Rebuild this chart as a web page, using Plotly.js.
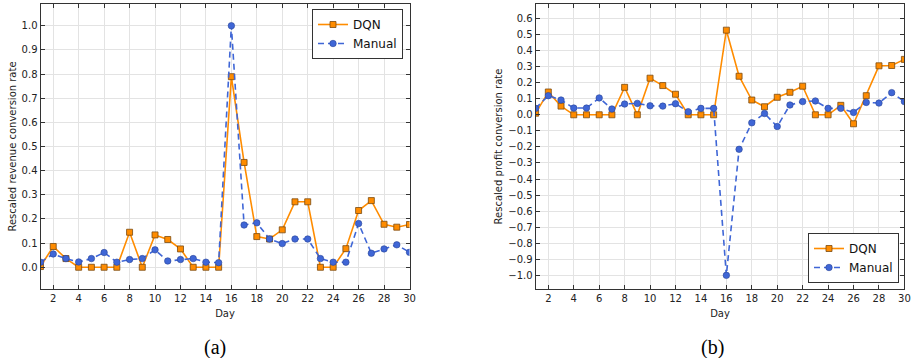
<!DOCTYPE html>
<html><head><meta charset="utf-8">
<script src="https://cdn.plot.ly/plotly-3.0.1.min.js"></script>
<style>html,body{margin:0;padding:0;background:#fff}#plot{width:911px;height:358px}</style>
</head><body><div id="plot"></div>
<script>
const days = Array.from({length:30},(_,i)=>i+1);
const revenueDQN = [0.003,0.086,0.036,0,0,0,0,0.145,0,0.134,0.115,0.076,0,0,0,0.789,0.434,0.127,0.117,0.155,0.271,0.271,0,0,0.077,0.235,0.276,0.178,0.166,0.177];
const revenueManual = [0.021,0.055,0.036,0.022,0.036,0.061,0.021,0.032,0.036,0.072,0.026,0.032,0.036,0.021,0.019,1.0,0.175,0.184,0.117,0.098,0.117,0.117,0.036,0.021,0.021,0.181,0.058,0.076,0.093,0.062];
const profitDQN = [0.01,0.142,0.054,0,0,0,0,0.171,0,0.228,0.182,0.128,0,0,0,0.527,0.240,0.092,0.050,0.109,0.140,0.178,0,0,0.059,-0.056,0.119,0.305,0.307,0.345];
const profitManual = [0.040,0.119,0.092,0.042,0.042,0.105,0.036,0.067,0.071,0.056,0.054,0.069,0.019,0.040,0.040,-1.0,-0.215,-0.050,0.008,-0.073,0.061,0.082,0.086,0.040,0.040,0.015,0.077,0.073,0.138,0.082];
const xTicks = [2,4,6,8,10,12,14,16,18,20,22,24,26,28,30];
const revTicks = [0,0.1,0.2,0.3,0.4,0.5,0.6,0.7,0.8,0.9,1.0];
const profTicks = [-1.0,-0.9,-0.8,-0.7,-0.6,-0.5,-0.4,-0.3,-0.2,-0.1,0,0.1,0.2,0.3,0.4,0.5,0.6];

const ORANGE = '#ff8c00', BLUE = '#3f66d6';
function dqn(y, xa, ya, lg, show){
  return {x:days, y:y, xaxis:xa, yaxis:ya, name:'DQN', legend:lg, showlegend:show, mode:'lines+markers',
    line:{color:ORANGE, width:1.6}, marker:{symbol:'square', size:6, color:ORANGE, line:{color:'#7a4a10', width:0.8}}};
}
function man(y, xa, ya, lg, show){
  return {x:days, y:y, xaxis:xa, yaxis:ya, name:'Manual', legend:lg, showlegend:show, mode:'lines+markers',
    line:{color:BLUE, width:1.6, dash:'6px,4px'}, marker:{symbol:'circle', size:6.5, color:BLUE, line:{color:'#2a4597', width:0.6}}};
}
const data = [
  dqn(revenueDQN,'x','y','legend',true),
  man(revenueManual,'x','y','legend',true),
  dqn(profitDQN,'x2','y2','legend2',true),
  man(profitManual,'x2','y2','legend2',true)
];
const W=911,H=358;
const font = {family:'DejaVu Sans, sans-serif', size:10, color:'#222'};
function xax(dom, anchor){
  return {domain:dom, anchor:anchor, range:[1,30], tickvals:xTicks, ticks:'inside', ticklen:4, tickcolor:'#333',
    showline:true, linecolor:'#333', linewidth:1, mirror:'ticks', showgrid:true, gridcolor:'#e3e3e3', gridwidth:1,
    zeroline:false, tickfont:font, title:{text:'Day', font:{family:'DejaVu Sans, sans-serif', size:10, color:'#222'}, standoff:6}};
}
function yax(dom, anchor, range, ticks, title){
  return {domain:dom, anchor:anchor, range:range, tickvals:ticks, tickformat:'.1f', ticks:'inside', ticklen:4, tickcolor:'#333',
    showline:true, linecolor:'#333', linewidth:1, mirror:'ticks', showgrid:true, gridcolor:'#e3e3e3', gridwidth:1,
    zeroline:false, tickfont:font, title:{text:title, font:{family:'DejaVu Sans, sans-serif', size:10, color:'#222'}, standoff:3}};
}
const yd = [(H-289)/H, (H-4)/H];
const legFont = {family:'DejaVu Sans, sans-serif', size:12, color:'#111'};
const layout = {
  width:W, height:H, margin:{l:0,r:0,t:0,b:0}, paper_bgcolor:'#fff', plot_bgcolor:'#fff',
  xaxis: xax([40.5/W, 409.5/W],'y'),
  yaxis: yax(yd,'x',[-0.09,1.09],revTicks,'Rescaled revenue conversion rate'),
  xaxis2: xax([535.6/W, 904.4/W],'y2'),
  yaxis2: yax(yd,'x2',[-1.085,0.69],profTicks,'Rescaled profit conversion rate'),
  legend:{x:403/W, y:(H-9)/H, xanchor:'right', yanchor:'top', bgcolor:'#fff', bordercolor:'#333', borderwidth:1,
    font:legFont, tracegroupgap:0, itemwidth:30},
  legend2:{x:899/W, y:(H-283)/H, xanchor:'right', yanchor:'bottom', bgcolor:'#fff', bordercolor:'#333', borderwidth:1,
    font:legFont, tracegroupgap:0, itemwidth:30},
  annotations:[
    {text:'(a)', xref:'paper', yref:'paper', x:215/W, y:(H-347)/H, xanchor:'center', yanchor:'middle', showarrow:false, font:{family:'Liberation Serif, serif', size:20, color:'#000'}},
    {text:'(b)', xref:'paper', yref:'paper', x:712/W, y:(H-347)/H, xanchor:'center', yanchor:'middle', showarrow:false, font:{family:'Liberation Serif, serif', size:20, color:'#000'}}
  ]
};
Plotly.newPlot('plot', data, layout, {displayModeBar:false, staticPlot:true});
</script></body></html>
